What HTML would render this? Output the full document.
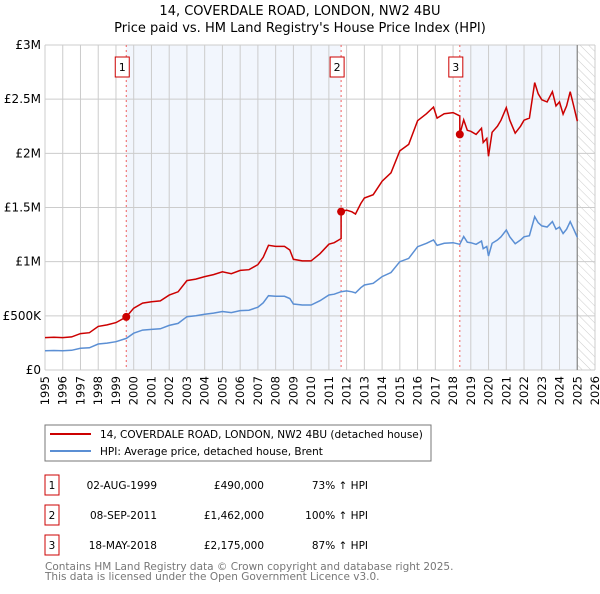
<!DOCTYPE html>
<html><head><meta charset="utf-8"><style>
body{margin:0;background:#fff;width:600px;height:590px;overflow:hidden;font-family:"DejaVu Sans","Liberation Sans",sans-serif;}
svg text{font-family:"DejaVu Sans","Liberation Sans",sans-serif;}
</style></head><body>
<svg id="c" width="600" height="590" xmlns="http://www.w3.org/2000/svg">
<defs><pattern id="hatch" width="6" height="6" patternUnits="userSpaceOnUse" patternTransform="rotate(-45)"><line x1="0" y1="0" x2="0" y2="6" stroke="#ccc" stroke-width="1"/></pattern></defs>
<text x="300" y="15" text-anchor="middle" font-size="13">14, COVERDALE ROAD, LONDON, NW2 4BU</text>
<text x="300" y="32" text-anchor="middle" font-size="13">Price paid vs. HM Land Registry's House Price Index (HPI)</text>
<g id="plot"></g>
<rect x="45" y="425" width="386" height="36" fill="#fff" stroke="#777"/>
<line x1="50" y1="434" x2="91" y2="434" stroke="#cc0000" stroke-width="2"/>
<text x="100" y="438" font-size="10.5">14, COVERDALE ROAD, LONDON, NW2 4BU (detached house)</text>
<line x1="50" y1="451" x2="91" y2="451" stroke="#5b8fd4" stroke-width="2"/>
<text x="100" y="455" font-size="10.5">HPI: Average price, detached house, Brent</text>
<g id="table" font-size="10.5"></g>
<text x="45" y="570" font-size="10.5" fill="#777">Contains HM Land Registry data © Crown copyright and database right 2025.</text>
<text x="45" y="580" font-size="10.5" fill="#777">This data is licensed under the Open Government Licence v3.0.</text>
</svg>
<script>
const hpiYears=[1995,1995.5,1996,1996.5,1997,1997.5,1998,1998.5,1999,1999.58,2000,2000.5,2001,2001.5,2002,2002.5,2003,2003.5,2004,2004.5,2005,2005.5,2006,2006.5,2007,2007.3,2007.6,2008,2008.5,2008.8,2009,2009.5,2010,2010.5,2011,2011.3,2011.69,2012,2012.3,2012.5,2012.8,2013,2013.5,2014,2014.5,2015,2015.5,2016,2016.5,2016.9,2017.1,2017.5,2018,2018.38,2018.6,2018.8,2019,2019.3,2019.6,2019.7,2019.9,2020,2020.2,2020.5,2020.7,2021,2021.2,2021.5,2021.8,2022,2022.3,2022.6,2022.8,2023,2023.3,2023.6,2023.8,2024,2024.2,2024.4,2024.6,2024.8,2025];
const hpiValues=[178,180,178,182,200,205,240,248,261,292,340,368,375,380,412,430,492,500,514,525,540,530,548,552,580,620,686,680,680,660,609,600,600,640,692,700,723,730,722,712,760,785,800,862,900,1000,1030,1138,1170,1200,1150,1170,1175,1160,1232,1180,1175,1160,1190,1120,1140,1052,1170,1200,1230,1292,1230,1166,1200,1230,1240,1415,1360,1330,1320,1370,1300,1320,1260,1300,1370,1300,1225];
const saleYears=[1999.58,2011.69,2018.38];
const salePrices=[490,1462,2175];
const saleLabels=["1","2","3"];
const saleDates=["02-AUG-1999","08-SEP-2011","18-MAY-2018"];
const salePriceText=["£490,000","£1,462,000","£2,175,000"];
const saleHpiText=["73% ↑ HPI","100% ↑ HPI","87% ↑ HPI"];
const yTicks=[0,500,1000,1500,2000,2500,3000];
const yTickLabels=["£0","£500K","£1M","£1.5M","£2M","£2.5M","£3M"];
const xTicks=[1995,1996,1997,1998,1999,2000,2001,2002,2003,2004,2005,2006,2007,2008,2009,2010,2011,2012,2013,2014,2015,2016,2017,2018,2019,2020,2021,2022,2023,2024,2025,2026];

const X0=45,X1=595,Y0=370,Y1=45;
const xs=y=>X0+(y-1995)/(2026-1995)*(X1-X0);
const ys=v=>Y0-v/3000*(Y0-Y1);
const NS="http://www.w3.org/2000/svg";
const plot=document.getElementById('plot');
function mk(tag,attrs,parent){const e=document.createElementNS(NS,tag);for(const k in attrs)e.setAttribute(k,attrs[k]);(parent||plot).appendChild(e);return e;}
function hpiAt(t){for(let i=1;i<hpiYears.length;i++){if(t<=hpiYears[i]){const f=(t-hpiYears[i-1])/(hpiYears[i]-hpiYears[i-1]);return hpiValues[i-1]+f*(hpiValues[i]-hpiValues[i-1]);}}return hpiValues[hpiValues.length-1];}
let bg=mk('rect',{x:X0,y:Y1,width:X1-X0,height:Y0-Y1,fill:'#fff'});


const shadeEdges=[saleYears[0],saleYears[1],saleYears[2],2025];
let s1=mk('rect',{x:xs(shadeEdges[0]),y:Y1,width:xs(shadeEdges[1])-xs(shadeEdges[0]),height:Y0-Y1,fill:'#f2f6fd'});


let s2=mk('rect',{x:xs(shadeEdges[2]),y:Y1,width:xs(shadeEdges[3])-xs(shadeEdges[2]),height:Y0-Y1,fill:'#f2f6fd'});


let h=mk('rect',{x:xs(2025),y:Y1,width:X1-xs(2025),height:Y0-Y1,fill:'url(#hatch)'});


xTicks.forEach(t=>{const l=mk('line',{x1:xs(t),x2:xs(t),y1:Y1,y2:Y0,stroke:'#ccc','stroke-width':1});


const tx=mk('text',{x:0,y:0,'font-size':11.5,'text-anchor':'end',transform:`translate(${xs(t)+4},${Y0+6}) rotate(-90)`});tx.textContent=t;

});
yTicks.forEach((t,i)=>{const l=mk('line',{x1:X0,x2:X1,y1:ys(t),y2:ys(t),stroke:'#ccc','stroke-width':1});


const tx=mk('text',{x:X0-4,y:ys(t)+4,'font-size':12,'text-anchor':'end'});tx.textContent=yTickLabels[i];

});
let vl=mk('line',{x1:xs(2025),x2:xs(2025),y1:Y1,y2:Y0,stroke:'#888','stroke-width':1.2});


saleYears.forEach((sy,i)=>{const l=mk('line',{x1:xs(sy),x2:xs(sy),y1:Y1,y2:Y0,stroke:'#f06060','stroke-width':1,'stroke-dasharray':'2,3'});


const b=mk('rect',{x:xs(sy)-11,y:57,width:14,height:20,fill:'#fff',stroke:'#cc0000'});


const t=mk('text',{x:xs(sy)-4,y:71,'font-size':11,'text-anchor':'middle'});t.textContent=saleLabels[i];

});
let d='';hpiYears.forEach((y,i)=>{d+=(i?'L':'M')+xs(y).toFixed(1)+','+ys(hpiValues[i]).toFixed(1);});
const hl=mk('path',{d:d,fill:'none',stroke:'#5b8fd4','stroke-width':1.5});


function ratioAt(t){let k=0;for(let i=0;i<saleYears.length;i++)if(t>=saleYears[i])k=i;return salePrices[k]/hpiAt(saleYears[k]);}
let pts=[];hpiYears.forEach((y,i)=>{pts.push([y,hpiValues[i]*ratioAt(y)]);});
saleYears.forEach((sy,i)=>{if(i>0)pts.push([sy-0.001,hpiAt(sy)*ratioAt(sy-0.01)]);pts.push([sy,salePrices[i]]);});
pts.sort((a,b)=>a[0]-b[0]);
let d2='';pts.forEach((p,i)=>{d2+=(i?'L':'M')+xs(p[0]).toFixed(1)+','+ys(p[1]).toFixed(1);});
const rl=mk('path',{d:d2,fill:'none',stroke:'#cc0000','stroke-width':1.5});


saleYears.forEach((sy,i)=>{const c=mk('circle',{cx:xs(sy),cy:ys(salePrices[i]),r:4,fill:'#cc0000'});

});
const tb=document.getElementById('table');
saleYears.forEach((sy,i)=>{const y=485+i*30;
const b=mk('rect',{x:45,y:y-10,width:14,height:20,fill:'#fff',stroke:'#cc0000'},tb);


const vals=[[52,saleLabels[i],'middle'],[157,saleDates[i],'end'],[264,salePriceText[i],'end'],[368,saleHpiText[i],'end']];
vals.forEach(v=>{const t=mk('text',{x:v[0],y:y+4,'text-anchor':v[2]},tb);t.textContent=v[1];

});});
</script>
</body></html>
